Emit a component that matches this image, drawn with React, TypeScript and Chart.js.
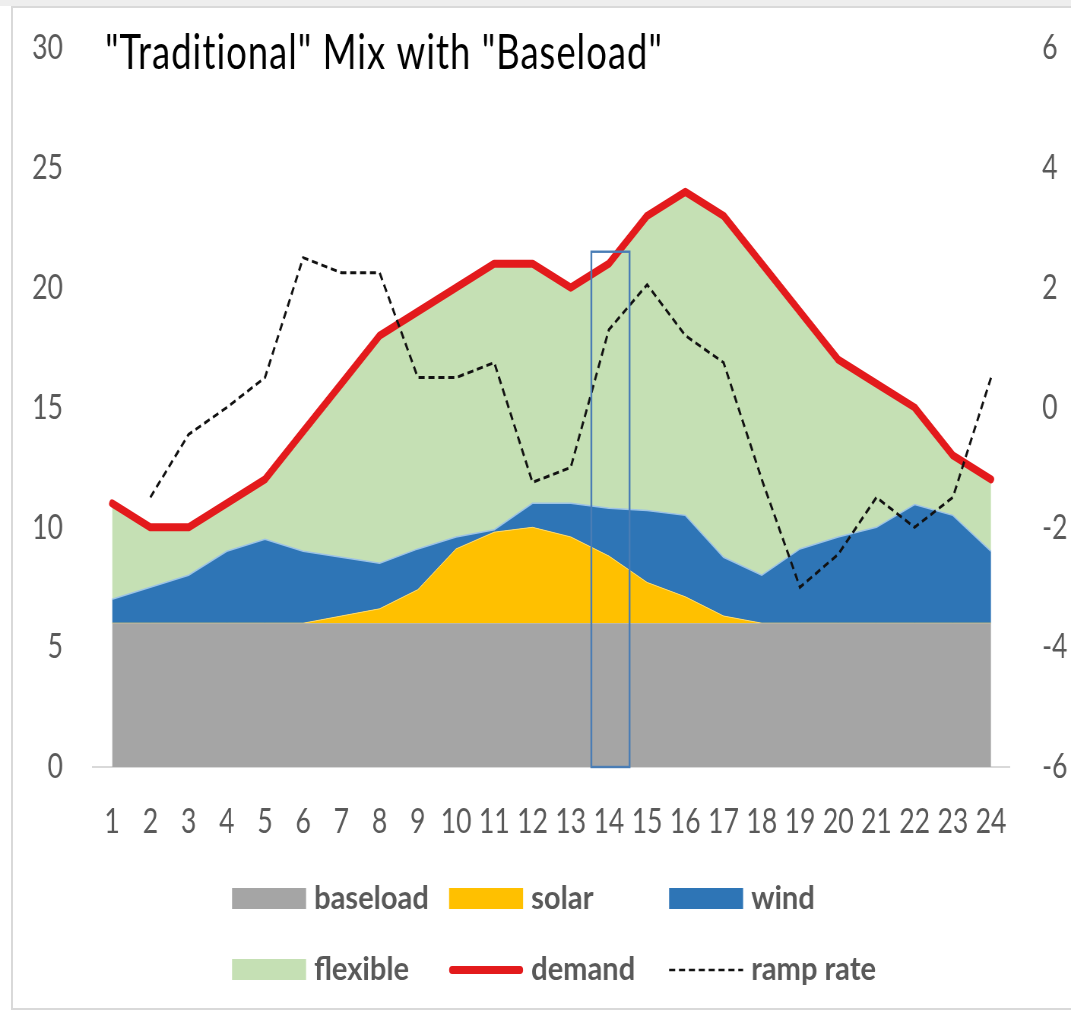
import React, { useEffect, useRef } from "react";
import { Chart, registerables } from "chart.js";

Chart.register(...registerables);

// ---------- data ----------
const hours = ["1", "2", "3", "4", "5", "6", "7", "8", "9", "10", "11", "12", "13", "14", "15", "16", "17", "18", "19", "20", "21", "22", "23", "24"];
const baseload = [6, 6, 6, 6, 6, 6, 6, 6, 6, 6, 6, 6, 6, 6, 6, 6, 6, 6, 6, 6, 6, 6, 6, 6];
const solar = [0, 0, 0, 0, 0, 0, 0.3, 0.6, 1.4, 3.1, 3.8, 4.0, 3.6, 2.8, 1.7, 1.1, 0.3, 0, 0, 0, 0, 0, 0, 0];
const wind = [1, 1.5, 2, 3, 3.5, 3, 2.45, 1.9, 1.7, 0.5, 0.1, 1, 1.4, 2, 3, 3.4, 2.45, 2, 3.1, 3.6, 4, 4.95, 4.5, 3];
const flexible = [4, 2.5, 2, 2, 2.5, 5, 7.25, 9.5, 9.9, 10.4, 11.1, 10, 9, 10.2, 12.3, 13.5, 14.25, 13, 9.9, 7.4, 6, 4.05, 2.5, 3];
const demand = [11, 10, 10, 11, 12, 14, 16, 18, 19, 20, 21, 21, 20, 21, 23, 24, 23, 21, 19, 17, 16, 15, 13, 12];
const rampRate = [null, -1.5, -0.45, 0, 0.5, 2.5, 2.25, 2.25, 0.5, 0.5, 0.75, -1.25, -1, 1.3, 2.05, 1.2, 0.75, -1.2, -3, -2.45, -1.5, -2, -1.5, 0.5];

const leftAxis = { min: 0, max: 30, step: 5 };
const rightAxis = { min: -6, max: 6, step: 2 };

const titleText = '"Traditional" Mix with "Baseload"';
const highlightHour = "14";
const highlightTop = 21.5;

const legendRows = [
  ["baseload", "solar", "wind"],
  ["flexible", "demand", "ramp rate"],
];

// ---------- layout / style ----------
const W = 1071;
const H = 1016;
const SX = 0.76; // horizontal squeeze of the original picture
const LW = Math.round(W / SX);
const lx = (d: number) => d / SX;
const FONT = 'Lato, "Open Sans", "DejaVu Sans", sans-serif';
const TICK_COLOR = "#595959";

const GRAY = "#A5A5A5";
const YELLOW = "#FFC000";
const BLUE = "#2E75B6";
const GREEN = "#C5E0B4";
const RED = "#E31A1C";

const PLOT = { left: 93, right: 1010, top: 48, bottom: 767 };

function stretchedText(ctx: any, text: string, x: number, y: number, k: number) {
  ctx.save();
  ctx.translate(x, y);
  ctx.scale(k, 1);
  ctx.fillText(text, 0, 0);
  ctx.restore();
}

const decorPlugin = {
  id: "decor",
  afterDatasetsDraw(chart: any) {
    const ctx = chart.ctx;
    const xs = chart.scales.x;
    const ys = chart.scales.y;
    const idx = hours.indexOf(highlightHour);
    const px = xs.getPixelForValue(idx);
    const bin = xs.getPixelForValue(1) - xs.getPixelForValue(0);
    const left = px - 0.46 * bin;
    const right = px + 0.54 * bin;
    const top = ys.getPixelForValue(highlightTop);
    const bottom = ys.getPixelForValue(0);
    ctx.save();
    ctx.strokeStyle = "#4A7DB5";
    ctx.lineWidth = 2.4;
    ctx.strokeRect(left, top, right - left, bottom - top);
    ctx.restore();
  },
  afterDraw(chart: any) {
    const ctx = chart.ctx;
    ctx.save();
    // title
    ctx.font = `48px ${FONT}`;
    ctx.fillStyle = "#000";
    ctx.textAlign = "left";
    ctx.textBaseline = "alphabetic";
    try {
      ctx.letterSpacing = "1.3px";
    } catch (e) {}
    ctx.fillText(titleText, lx(105), 69);
    try {
      ctx.letterSpacing = "0px";
    } catch (e) {}

    // legend
    const colX = [232, 449, 669];
    const rowY = [898, 969];
    const ds = chart.data.datasets;
    legendRows.forEach((row, r) => {
      row.forEach((label, c) => {
        const d = ds.find((e: any) => e.label === label);
        if (!d) return;
        const x0 = lx(colX[c]);
        const cy = rowY[r];
        const sw = lx(74);
        if (d.fill) {
          ctx.fillStyle = d.backgroundColor;
          ctx.fillRect(x0, cy - 10, sw, 21);
        } else {
          ctx.beginPath();
          ctx.strokeStyle = d.borderColor;
          ctx.lineWidth = d.borderDash ? 2.6 : d.borderWidth;
          ctx.lineCap = d.borderDash ? "butt" : "round";
          ctx.setLineDash(d.borderDash || []);
          ctx.moveTo(x0 + (d.borderDash ? 0 : 4), cy + 1);
          ctx.lineTo(x0 + sw - (d.borderDash ? 0 : 4), cy + 1);
          ctx.stroke();
          ctx.setLineDash([]);
        }
        ctx.font = `bold 33px ${FONT}`;
        ctx.fillStyle = "#595959";
        ctx.textAlign = "left";
        ctx.textBaseline = "alphabetic";
        stretchedText(ctx, label, lx(colX[c] + 82), cy + 11, 1.16);
      });
    });
    ctx.restore();
  },
};

const noPad = (s: any) => {
  s.paddingTop = 0;
  s.paddingBottom = 0;
};

export default function App() {
  const ref = useRef<HTMLCanvasElement | null>(null);

  useEffect(() => {
    const canvas = ref.current;
    if (!canvas) return;
    const tickFont = { family: FONT, size: 35 };
    const chart = new Chart(canvas, {
      type: "line",
      data: {
        labels: hours,
        datasets: [
          {
            label: "ramp rate",
            data: rampRate,
            yAxisID: "y1",
            borderColor: "#111111",
            borderWidth: 2.9,
            borderDash: [8, 5],
            pointRadius: 0,
            fill: false,
            tension: 0,
          },
          {
            label: "demand",
            data: demand,
            yAxisID: "y",
            stack: "demand",
            borderColor: RED,
            borderWidth: 8,
            borderCapStyle: "round",
            borderJoinStyle: "round",
            pointRadius: 0,
            fill: false,
            tension: 0,
          },
          {
            label: "baseload",
            data: baseload,
            yAxisID: "y",
            stack: "mix",
            backgroundColor: GRAY,
            borderColor: "rgba(0,0,0,0)",
            borderWidth: 0,
            pointRadius: 0,
            fill: "origin",
            tension: 0,
          },
          {
            label: "solar",
            data: solar,
            yAxisID: "y",
            stack: "mix",
            backgroundColor: YELLOW,
            borderColor: "#FFD966",
            borderWidth: 1,
            pointRadius: 0,
            fill: "-1",
            tension: 0,
          },
          {
            label: "wind",
            data: wind,
            yAxisID: "y",
            stack: "mix",
            backgroundColor: BLUE,
            borderColor: "#9DC3E6",
            borderWidth: 1.5,
            pointRadius: 0,
            fill: "-1",
            tension: 0,
          },
          {
            label: "flexible",
            data: flexible,
            yAxisID: "y",
            stack: "mix",
            backgroundColor: GREEN,
            borderColor: "rgba(0,0,0,0)",
            borderWidth: 0,
            pointRadius: 0,
            fill: "-1",
            tension: 0,
          },
        ],
      },
      options: {
        animation: false,
        responsive: false,
        events: [],
        layout: { padding: { top: PLOT.top, left: 0, right: 0, bottom: 0 } },
        plugins: {
          legend: { display: false },
          title: { display: false },
          tooltip: { enabled: false },
        },
        scales: {
          x: {
            type: "category",
            offset: true,
            grid: { display: false, drawTicks: false },
            border: { display: true, color: "#D9D9D9", width: 2 },
            ticks: {
              color: TICK_COLOR,
              font: tickFont,
              padding: 34,
              maxRotation: 0,
              autoSkip: false,
            },
            afterFit: (s: any) => {
              s.height = H - PLOT.bottom;
              s.paddingLeft = 0;
              s.paddingRight = 0;
            },
          },
          y: {
            position: "left",
            stacked: true,
            min: leftAxis.min,
            max: leftAxis.max,
            grid: { display: false, drawTicks: false },
            border: { display: false },
            ticks: {
              stepSize: leftAxis.step,
              color: TICK_COLOR,
              font: tickFont,
              padding: lx(PLOT.left) - lx(63),
            },
            afterFit: (s: any) => {
              s.width = lx(PLOT.left);
              noPad(s);
            },
          },
          y1: {
            position: "right",
            stacked: false,
            min: rightAxis.min,
            max: rightAxis.max,
            grid: { display: false, drawTicks: false },
            border: { display: false },
            ticks: {
              stepSize: rightAxis.step,
              color: TICK_COLOR,
              font: tickFont,
              padding: lx(1042) - lx(PLOT.right),
            },
            afterFit: (s: any) => {
              s.width = LW - lx(PLOT.right);
              noPad(s);
            },
          },
        },
      },
      plugins: [decorPlugin],
    } as any);
    return () => {
      chart.destroy();
    };
  }, []);

  return (
    <div style={{ position: "absolute", left: 0, top: 0, width: W, height: H, background: "#ffffff", overflow: "hidden" }}>
      <div style={{ position: "absolute", left: 0, top: 0, width: W, height: 6, background: "#EEEEEE" }} />
      <div
        style={{
          position: "absolute",
          left: 11,
          top: 6,
          width: W + 20,
          height: 1004,
          border: "2px solid #D9D9D9",
          boxSizing: "border-box",
        }}
      />
      <canvas
        ref={ref}
        width={LW}
        height={H}
        style={{ position: "absolute", left: 0, top: 0, width: W, height: H, display: "block" }}
      />
    </div>
  );
}
